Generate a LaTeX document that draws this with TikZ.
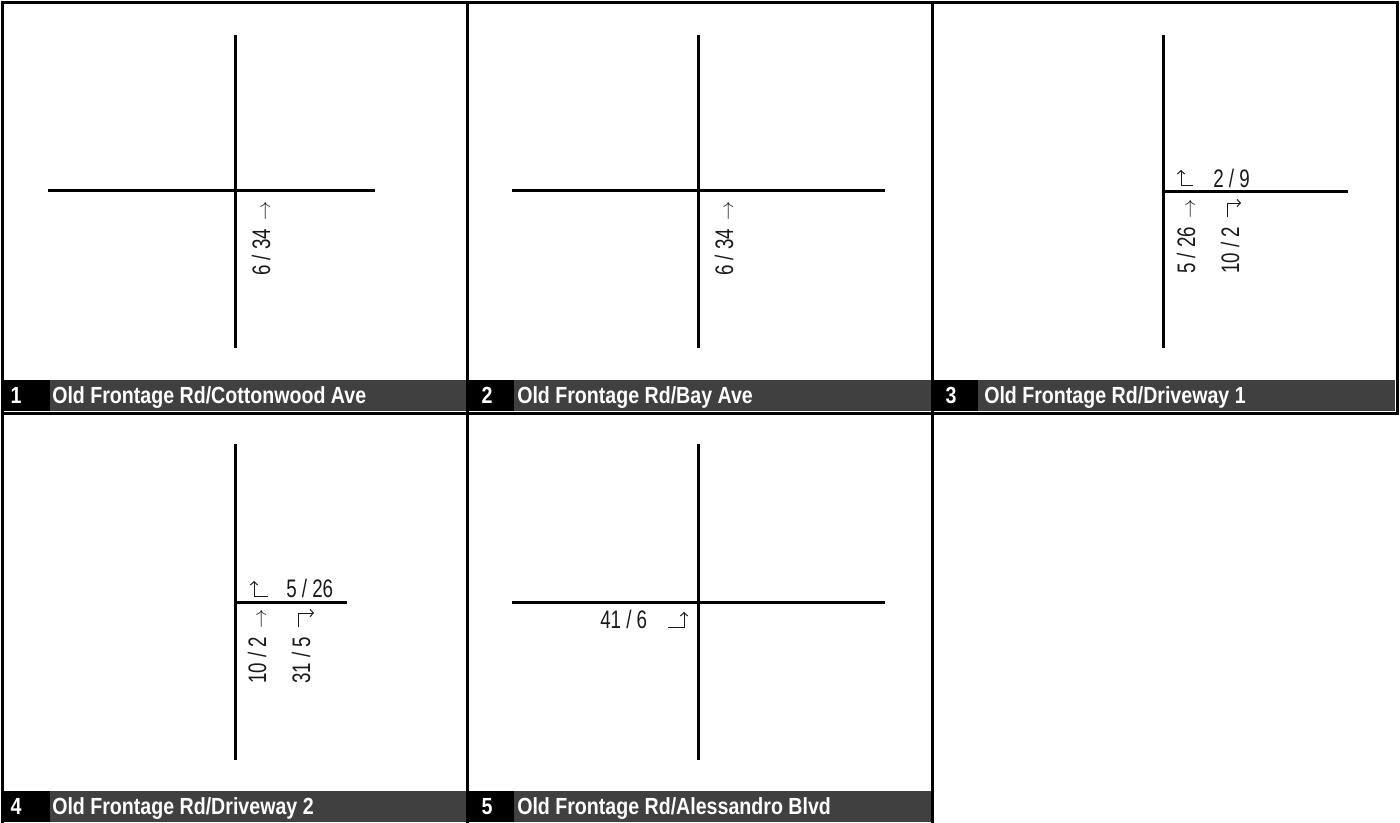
\documentclass[tikz,border=0pt]{standalone}
\usepackage{fontspec}
\setmainfont{Liberation Sans}
\newfontfamily\narrowfont[FakeStretch=0.84]{Liberation Sans}
\newfontfamily\volfont[FakeStretch=0.74]{Liberation Sans}
\usetikzlibrary{arrows.meta}
\definecolor{bandgray}{HTML}{404040}
\definecolor{volgray}{HTML}{1A1A1A}
\newcommand{\uparr}{{\fontsize{14}{14}\selectfont$\rightarrow$}}

\begin{document}
\begin{tikzpicture}[
  x=0.75pt, y=-0.75pt,
  cell/.style={draw=black, line width=2.25pt},
  road/.style={draw=black, line width=2.25pt},
  band/.style={fill=bandgray},
  numbox/.style={fill=black},
  num/.style={text=white, font=\narrowfont\bfseries\fontsize{17.5}{20}\selectfont, inner sep=0pt, anchor=base},
  lbl/.style={text=white, font=\narrowfont\bfseries\fontsize{17.5}{20}\selectfont, inner sep=0pt, anchor=base west},
  vol/.style={text=volgray, font=\volfont\fontsize{19}{22}\selectfont, inner sep=0pt, anchor=base west},
  turn/.style={draw=volgray, line width=0.75pt, -{Straight Barb[length=2.5pt,width=5.5pt]}}
]
\useasboundingbox (0,0) rectangle (1400,822);

% cell frames
\draw[cell] (2,2) rectangle (467,413);
\draw[cell] (467,2) rectangle (932,413);
\draw[cell] (932,2) rectangle (1397,413);
\draw[cell] (2,413) rectangle (467,826);
\draw[cell] (467,413) rectangle (932,826);

% title bands
\fill[band] (3,380) rectangle (466,411);
\fill[band] (468,380) rectangle (931,411);
\fill[band] (933,380) rectangle (1395,411);
\fill[band] (3,791) rectangle (466,822);
\fill[band] (468,791) rectangle (931,822);
\fill[numbox] (1,380) rectangle (50,411);
\fill[numbox] (468,380) rectangle (514,411);
\fill[numbox] (933,380) rectangle (978,411);
\fill[numbox] (1,791) rectangle (50,822);
\fill[numbox] (468,791) rectangle (514,822);

% band labels
\node[num] (n1) at (16,403) {1};
\node[lbl] (t1) at (52,403) {Old Frontage Rd/Cottonwood Ave};
\node[num] (n2) at (487,403) {2};
\node[lbl] (t2) at (517,403) {Old Frontage Rd/Bay Ave};
\node[num] (n3) at (951,403) {3};
\node[lbl] (t3) at (984,403) {Old Frontage Rd/Driveway 1};
\node[num] (n4) at (16,814) {4};
\node[lbl] (t4) at (52,814) {Old Frontage Rd/Driveway 2};
\node[num] (n5) at (487,814) {5};
\node[lbl] (t5) at (517,814) {Old Frontage Rd/Alessandro Blvd};

% 1 Old Frontage Rd/Cottonwood Ave
\draw[road] (235,35) -- (235,348);
\draw[road] (48,190) -- (375,190);
\node[vol, rotate=90] (v1) at (270,276) {6 / 34\hspace{6pt}\uparr};

% 2 Old Frontage Rd/Bay Ave
\draw[road] (698,35) -- (698,348);
\draw[road] (512,190) -- (885,190);
\node[vol, rotate=90] (v2) at (733,276) {6 / 34\hspace{6pt}\uparr};

% 3 Old Frontage Rd/Driveway 1
\draw[road] (1163,35) -- (1163,348);
\draw[road] (1163,191) -- (1348,191);
\node[vol] (v3a) at (1213,187) {2 / 9};
\node[vol, rotate=90] (v3b) at (1195,274) {5 / 26\hspace{6pt}\uparr};
\node[vol, rotate=90] (v3c) at (1239,274) {10 / 2};
\draw[turn] (1193,185) -- (1181,185) -- (1181,170);
\draw[turn] (1227,217) -- (1227,203) -- (1241,203);

% 4 Old Frontage Rd/Driveway 2
\draw[road] (235,444) -- (235,760);
\draw[road] (235,602) -- (347,602);
\node[vol] (v4a) at (286,597) {5 / 26};
\node[vol, rotate=90] (v4b) at (266,684) {10 / 2\hspace{6pt}\uparr};
\node[vol, rotate=90] (v4c) at (310,684) {31 / 5};
\draw[turn] (268,596) -- (254,596) -- (254,581);
\draw[turn] (298,627) -- (298,613) -- (314,613);

% 5 Old Frontage Rd/Alessandro Blvd
\draw[road] (698,444) -- (698,760);
\draw[road] (512,602) -- (885,602);
\node[vol] (v5) at (600,628) {41 / 6};
\draw[turn] (668,627) -- (684,627) -- (684,612);

\end{tikzpicture}
\end{document}
